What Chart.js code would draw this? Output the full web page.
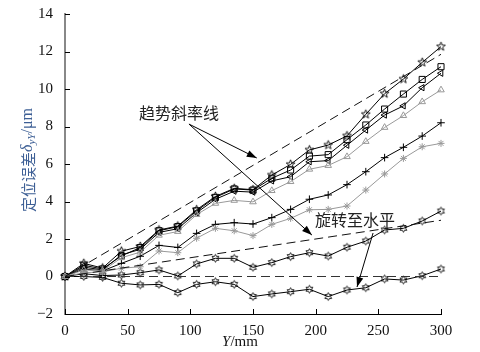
<!DOCTYPE html>
<html>
<head>
<meta charset="utf-8">
<script src="https://cdn.jsdelivr.net/npm/chart.js@4"></script>
<style>
  html, body { margin: 0; padding: 0; background: #fff; }
  #grafico { width: 480px; height: 352px; }
</style>
</head>
<body>
<div id="grafico"><canvas id="cv" width="480" height="352"></canvas></div>
<script>
// Posições Y (mm)
const posicoes = [0, 15, 30, 45, 60, 75, 90, 105, 120, 135, 150, 165, 180, 195, 210, 225, 240, 255, 270, 285, 300];

// Erros de posicionamento (μm)
const serieEstrela = [0, 0.7, 0.45, 1.35, 1.6, 2.48, 2.69, 3.56, 4.27, 4.7, 4.63, 5.41, 5.98, 6.75, 7.01, 7.5, 8.65, 9.75, 10.53, 11.42, 12.26];
const serieQuadrado = [0, 0.6, 0.4, 1.1, 1.54, 2.44, 2.66, 3.5, 4.22, 4.67, 4.61, 5.24, 5.68, 6.42, 6.5, 7.3, 8.08, 8.93, 9.73, 10.51, 11.19];
const serieTriEsq = [0, 0.5, 0.35, 1.15, 1.45, 2.35, 2.55, 3.4, 4.12, 4.55, 4.5, 5.1, 5.32, 6.12, 6.18, 7.0, 7.81, 8.61, 9.1, 10.07, 10.84];
const serieTriCinza = [0, 0.35, 0.3, 1.0, 1.3, 2.2, 2.4, 3.3, 3.9, 4.06, 3.98, 4.58, 5.06, 5.72, 5.92, 6.39, 7.2, 7.95, 8.58, 9.32, 9.95];
const serieMais = [0, 0.4, 0.3, 0.7, 1.08, 1.66, 1.55, 2.3, 2.78, 2.87, 2.8, 3.14, 3.58, 4.12, 4.35, 4.9, 5.59, 6.34, 6.89, 7.49, 8.2];
const serieAsterisco = [0, 0.2, 0.25, 0.44, 0.52, 1.36, 1.27, 2.04, 2.57, 2.44, 2.18, 2.78, 3.1, 3.56, 3.58, 3.76, 4.61, 5.47, 6.3, 6.92, 7.1];
const serieHexSup = [0, 0.15, 0.05, 0.08, 0.2, 0.35, 0.03, 0.67, 0.97, 0.97, 0.49, 0.74, 1.06, 1.27, 1.09, 1.56, 1.89, 2.48, 2.57, 2.96, 3.49];
const serieHexInf = [0, 0, -0.05, -0.36, -0.45, -0.42, -0.86, -0.42, -0.28, -0.42, -1.07, -0.93, -0.81, -0.68, -1.07, -0.72, -0.6, -0.13, -0.19, 0.04, 0.4];

// Linhas de tendência (início e fim)
const tendenciaX = [0, 300];
const tendenciaAlta = [0, 11.85];
const tendenciaMedia = [0, 3.0];
const tendenciaZero = [0, 0];

// Marcas dos eixos
const ticksX = [0, 50, 100, 150, 200, 250, 300];
const ticksY = [-2, 0, 2, 4, 6, 8, 10, 12, 14];

// Anotações em coordenadas dos dados
const anotacoes = [
    { texto: '趋势斜率线', x: 91, y: 8.72, setas: [[98.9, 8.13, 153, 6.32], [98.9, 8.13, 197, 2.21]] },
    { texto: '旋转至水平', x: 231.4, y: 3.01, setas: [[245.8, 2.32, 233, -0.56]] }
];

// Desenha estrela (pentagrama / hexagrama) num canvas para usar como marcador
function criarEstrela(pontas, rExt, rInt, cor) {
    const c = document.createElement('canvas');
    const s = Math.ceil(rExt * 2 + 3);
    c.width = s; c.height = s;
    const ctx = c.getContext('2d');
    ctx.beginPath();
    for (let i = 0; i < pontas * 2; i++) {
        const r = i % 2 ? rInt : rExt;
        const a = -Math.PI / 2 + i * Math.PI / pontas;
        ctx.lineTo(s / 2 + r * Math.cos(a), s / 2 + r * Math.sin(a));
    }
    ctx.closePath();
    ctx.strokeStyle = cor;
    ctx.lineWidth = 0.9;
    ctx.stroke();
    return c;
}

const pentagrama = criarEstrela(5, 4.6, 1.9, '#000');
const hexagrama = criarEstrela(6, 3.9, 2.2, '#000');

function pontos(valores, xs) {
    return valores.map((v, i) => ({ x: (xs || posicoes)[i], y: v }));
}

function serie(valores, cor, estilo, raio, rotacao) {
    return {
        data: pontos(valores),
        borderColor: cor,
        borderWidth: 1,
        pointStyle: estilo,
        pointRadius: raio,
        pointRotation: rotacao || 0,
        pointBorderColor: cor,
        pointBackgroundColor: 'rgba(0,0,0,0)',
        pointBorderWidth: 1,
        tension: 0,
        clip: false
    };
}

function tracejada(valores, cor) {
    return {
        data: pontos(valores, tendenciaX),
        borderColor: cor,
        borderWidth: 1,
        borderDash: [9, 5],
        pointRadius: 0,
        clip: false
    };
}

// Plugin: ticks para dentro, título do eixo Y, anotações
const extras = {
    id: 'extras',
    afterDatasetsDraw(chart) {
        const ctx = chart.ctx;
        const sx = chart.scales.x, sy = chart.scales.y;
        const area = chart.chartArea;
        ctx.save();
        ctx.strokeStyle = '#000';
        ctx.lineWidth = 1;
        ticksY.forEach(v => {
            const y = Math.round(sy.getPixelForValue(v)) + 0.5;
            ctx.beginPath(); ctx.moveTo(area.left, y); ctx.lineTo(area.left + 5, y); ctx.stroke();
        });
        ticksX.forEach(v => {
            const x = Math.round(sx.getPixelForValue(v)) + 0.5;
            ctx.beginPath(); ctx.moveTo(x, area.bottom); ctx.lineTo(x, area.bottom - 5); ctx.stroke();
        });

        // anotações com setas
        anotacoes.forEach(a => {
            ctx.font = '16px "Noto Sans CJK SC"';
            ctx.fillStyle = '#222';
            ctx.textAlign = 'center';
            ctx.textBaseline = 'middle';
            ctx.fillText(a.texto, sx.getPixelForValue(a.x), sy.getPixelForValue(a.y));
            a.setas.forEach(s => {
                const x1 = sx.getPixelForValue(s[0]), y1 = sy.getPixelForValue(s[1]);
                const x2 = sx.getPixelForValue(s[2]), y2 = sy.getPixelForValue(s[3]);
                const ang = Math.atan2(y2 - y1, x2 - x1);
                ctx.strokeStyle = '#000';
                ctx.lineWidth = 1;
                ctx.beginPath(); ctx.moveTo(x1, y1); ctx.lineTo(x2, y2); ctx.stroke();
                ctx.beginPath();
                ctx.moveTo(x2, y2);
                ctx.lineTo(x2 - 10 * Math.cos(ang) + 3.5 * Math.sin(ang), y2 - 10 * Math.sin(ang) - 3.5 * Math.cos(ang));
                ctx.lineTo(x2 - 10 * Math.cos(ang) - 3.5 * Math.sin(ang), y2 - 10 * Math.sin(ang) + 3.5 * Math.cos(ang));
                ctx.closePath();
                ctx.fillStyle = '#000';
                ctx.fill();
            });
        });

        // título do eixo Y com subscrito
        const partes = [
            { t: '定位误差', f: '15px "Noto Sans CJK SC"', dy: 0 },
            { t: 'δ', f: 'italic 16px "Liberation Serif"', dy: 0 },
            { t: 'yY', f: 'italic 11px "Liberation Serif"', dy: 4 },
            { t: '/μm', f: '16px "Liberation Serif"', dy: 0 }
        ];
        let total = 0;
        partes.forEach(p => { ctx.font = p.f; p.w = ctx.measureText(p.t).width; total += p.w; });
        ctx.translate(28, 160);
        ctx.rotate(-Math.PI / 2);
        ctx.fillStyle = '#3d5f95';
        ctx.textAlign = 'left';
        ctx.textBaseline = 'middle';
        let pos = -total / 2;
        partes.forEach(p => { ctx.font = p.f; ctx.fillText(p.t, pos, p.dy); pos += p.w; });
        ctx.restore();

        // título do eixo X
        ctx.save();
        ctx.fillStyle = '#111';
        ctx.textBaseline = 'alphabetic';
        ctx.font = 'italic 15px "Liberation Serif"';
        const wY = ctx.measureText('Y').width;
        ctx.font = '15px "Liberation Serif"';
        const wR = ctx.measureText('/mm').width;
        const x0 = 240 - (wY + wR) / 2;
        ctx.font = 'italic 15px "Liberation Serif"';
        ctx.fillText('Y', x0, 346);
        ctx.font = '15px "Liberation Serif"';
        ctx.fillText('/mm', x0 + wY, 346);
        ctx.restore();
    }
};

new Chart(document.getElementById('cv'), {
    type: 'line',
    data: {
        datasets: [
            tracejada(tendenciaAlta, '#111'),
            tracejada(tendenciaMedia, '#111'),
            tracejada(tendenciaZero, '#333'),
            serie(serieAsterisco, '#999', 'star', 3.5),
            serie(serieTriCinza, '#999', 'triangle', 3.8),
            serie(serieMais, '#000', 'cross', 3.8),
            serie(serieHexInf, '#000', hexagrama, 4),
            serie(serieHexSup, '#000', hexagrama, 4),
            serie(serieTriEsq, '#000', 'triangle', 3.6, -90),
            serie(serieQuadrado, '#000', 'rect', 4.3),
            serie(serieEstrela, '#000', pentagrama, 5)
        ]
    },
    options: {
        responsive: false,
        animation: false,
        layout: { padding: { top: 14, right: 39, left: 0, bottom: 0 } },
        plugins: { legend: { display: false }, tooltip: { enabled: false } },
        scales: {
            x: {
                type: 'linear', min: 0, max: 300,
                grid: { display: false },
                border: { display: true, color: '#000', width: 1 },
                afterFit: s => { s.height = 38; },
                afterBuildTicks: s => { s.ticks = ticksX.map(v => ({ value: v })); },
                ticks: { padding: 0, color: '#111', font: { family: 'Liberation Serif', size: 15 } }
            },
            y: {
                min: -2, max: 14,
                grid: { display: false },
                border: { display: true, color: '#888', width: 2 },
                afterFit: s => { s.width = 65; },
                afterBuildTicks: s => { s.ticks = ticksY.map(v => ({ value: v })); },
                ticks: {
                    padding: 4, color: '#111', font: { family: 'Liberation Serif', size: 15 },
                    callback: v => v < 0 ? '\u2212' + Math.abs(v) : String(v)
                }
            }
        }
    },
    plugins: [extras]
});
</script>
</body>
</html>
